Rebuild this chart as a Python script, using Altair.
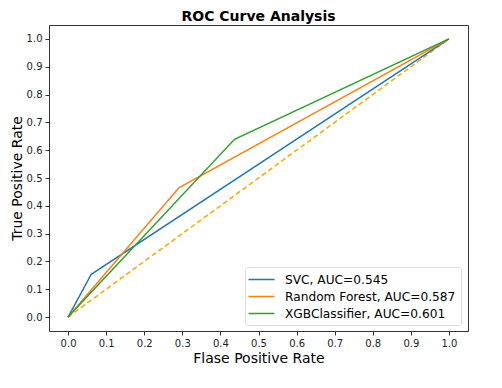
import altair as alt
import pandas as pd

models = ["SVC, AUC=0.545", "Random Forest, AUC=0.587", "XGBClassifier, AUC=0.601"]
colors = ["#1f77b4", "#ff7f0e", "#2ca02c"]
fpr_svc = [0.0, 0.061, 1.0]
tpr_svc = [0.0, 0.154, 1.0]
fpr_rf = [0.0, 0.291, 1.0]
tpr_rf = [0.0, 0.465, 1.0]
fpr_xgb = [0.0, 0.437, 1.0]
tpr_xgb = [0.0, 0.639, 1.0]
diag_x = [0.0, 1.0]
diag_y = [0.0, 1.0]
ticks = [round(i * 0.1, 1) for i in range(11)]

rows = []
for name, fx, ty in zip(models, [fpr_svc, fpr_rf, fpr_xgb], [tpr_svc, tpr_rf, tpr_xgb]):
    for i, (a, b) in enumerate(zip(fx, ty)):
        rows.append({"model": name, "fpr": a, "tpr": b, "order": i})
df = pd.DataFrame(rows)
diag = pd.DataFrame({"fpr": diag_x, "tpr": diag_y})

font = "DejaVu Sans"
xs = alt.Scale(domain=[-0.05, 1.05], nice=False, zero=False)
ys = alt.Scale(domain=[-0.05, 1.05], nice=False, zero=False)
xax = alt.Axis(values=ticks, format=".1f", grid=False, title="Flase Positive Rate",
               labelFontSize=10, titleFontSize=14, titleFontWeight="normal",
               tickSize=4, labelPadding=3, titlePadding=3, domain=False,
               tickColor="#333", labelColor="#222", titleColor="#000", labelFont=font, titleFont=font)
yax = alt.Axis(values=ticks, format=".1f", grid=False, title="True Positive Rate",
               labelFontSize=10, titleFontSize=14, titleFontWeight="normal",
               tickSize=4, labelPadding=3, titlePadding=2, domain=False,
               tickColor="#333", labelColor="#222", titleColor="#000", labelFont=font, titleFont=font)

diag_layer = alt.Chart(diag).mark_line(color="#ffa500", strokeDash=[5, 3], strokeWidth=1.5).encode(
    x=alt.X("fpr:Q", scale=xs, axis=xax),
    y=alt.Y("tpr:Q", scale=ys, axis=yax),
)

lines = alt.Chart(df).mark_line(strokeWidth=1.5).encode(
    x=alt.X("fpr:Q", scale=xs, axis=xax),
    y=alt.Y("tpr:Q", scale=ys, axis=yax),
    order="order:Q",
    color=alt.Color("model:N", scale=alt.Scale(domain=models, range=colors), sort=models,
                    legend=alt.Legend(title=None, orient="none", legendX=196, legendY=242,
                                      symbolType="M-2,0L2,0", symbolSize=169, symbolStrokeWidth=1.5,
                                      symbolFillColor="transparent", symbolOffset=4,
                                      labelFontSize=12.2, labelFont=font, labelColor="#000",
                                      labelOffset=16,
                                      padding=5, rowPadding=3, strokeColor="#ddd",
                                      fillColor="white", cornerRadius=3, labelLimit=300)),
)

chart = alt.layer(diag_layer, lines).properties(
    width=419, height=306,
    title=alt.TitleParams("ROC Curve Analysis", fontSize=14, fontWeight="bold", font=font,
                          color="#000", offset=1),
    autosize=alt.AutoSizeParams(type="none"),
    padding={"left": 41, "top": 17, "right": 20, "bottom": 40},
).configure_view(stroke="#333", strokeWidth=1)

chart.save("out.html", embed_options={"renderer": "svg", "actions": False})
